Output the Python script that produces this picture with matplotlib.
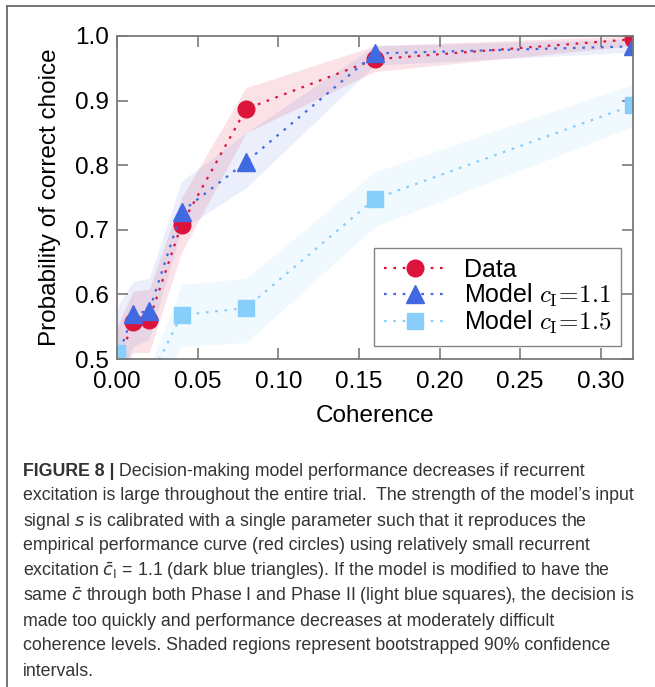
import matplotlib
matplotlib.use('Agg')
import matplotlib.pyplot as plt
from matplotlib.lines import Line2D
import numpy as np

plt.rcParams['font.family'] = ['Liberation Sans', 'DejaVu Sans']
plt.rcParams['mathtext.fontset'] = 'cm'

# coherence levels
coh = [0.0, 0.01, 0.02, 0.04, 0.08, 0.16, 0.32]

# data (red circles)
data_p = [0.49, 0.557, 0.561, 0.708, 0.887, 0.964, 0.995]
data_lo = [0.46, 0.51, 0.51, 0.665, 0.85, 0.945, 0.985]
data_hi = [0.55, 0.605, 0.608, 0.75, 0.92, 0.985, 1.0]

# model c_I = 1.1 (dark blue triangles)
m11_p = [0.50, 0.569, 0.575, 0.728, 0.805, 0.973, 0.984]
m11_lo = [0.46, 0.52, 0.53, 0.70, 0.765, 0.955, 0.975]
m11_hi = [0.58, 0.62, 0.625, 0.775, 0.85, 0.985, 0.995]

# model c_I = 1.5 (light blue squares)
m15_p = [0.51, 0.45, 0.468, 0.568, 0.579, 0.748, 0.893]
m15_lo = [0.47, 0.41, 0.43, 0.52, 0.525, 0.705, 0.86]
m15_hi = [0.55, 0.49, 0.485, 0.615, 0.625, 0.79, 0.925]

xticks = [0.00, 0.05, 0.10, 0.15, 0.20, 0.25, 0.30]
yticks = [0.5, 0.6, 0.7, 0.8, 0.9, 1.0]

caption = [
    "excitation is large throughout the entire trial.  The strength of the model\u2019s input",
    r"signal $s$ is calibrated with a single parameter such that it reproduces the",
    "empirical performance curve (red circles) using relatively small recurrent",
    r"excitation $\bar{c}_\mathrm{I}$ = 1.1 (dark blue triangles). If the model is modified to have the",
    r"same $\bar{c}$ through both Phase I and Phase II (light blue squares), the decision is",
    "made too quickly and performance decreases at moderately difficult",
    "coherence levels. Shaded regions represent bootstrapped 90% confidence",
    "intervals.",
]
caption_head = "FIGURE 8 |"
caption_first = " Decision-making model performance decreases if recurrent"

W, H = 655, 687
fig = plt.figure(figsize=(W / 100, H / 100), dpi=100)
ax = fig.add_axes([117 / W, 1 - 359 / H, (633 - 117) / W, (359 - 36) / H])

red = '#DC143C'
blue = '#4169E1'
lblue = '#87CEFA'
dot = (0, (1.2, 3))

ax.fill_between(coh, data_lo, data_hi, color=red, alpha=0.12, lw=0)
ax.fill_between(coh, m11_lo, m11_hi, color=blue, alpha=0.10, lw=0)
ax.fill_between(coh, m15_lo, m15_hi, color=lblue, alpha=0.12, lw=0)

ax.plot(coh, data_p, ls=dot, lw=1.6, color=red, marker='o', ms=12,
        mec=red, label='Data')
ax.plot(coh, m11_p, ls=dot, lw=1.6, color=blue, marker='^', ms=13,
        mec=blue, label=r'Model $c_\mathrm{I}\!=\!1.1$')
ax.plot(coh, m15_p, ls=dot, lw=1.6, color=lblue, marker='s', ms=11.5,
        mec=lblue, label=r'Model $c_\mathrm{I}\!=\!1.5$')

ax.set_xlim(0, 0.32)
ax.set_ylim(0.5, 1.0)
ax.set_xticks(xticks)
ax.set_xticklabels(['%.2f' % t for t in xticks])
ax.set_yticks(yticks)
ax.set_yticklabels(['%.1f' % t for t in yticks])

spine_c = '#7a7a7a'
for s in ax.spines.values():
    s.set_color(spine_c)
    s.set_linewidth(1.3)
ax.tick_params(direction='in', top=True, right=True, length=8, width=1.2,
               color=spine_c, labelsize=17.5, labelcolor='black')
ax.tick_params(axis='x', pad=9)
ax.tick_params(axis='y', pad=6)

ax.set_xlabel('Coherence', fontsize=17.5, labelpad=8)
ax.set_ylabel('Probability of correct choice', fontsize=17.5, labelpad=10)

leg = ax.legend(loc='lower right', fontsize=18, handlelength=2.5,
                frameon=True, fancybox=False, borderpad=0.4,
                labelspacing=0.0, handletextpad=0.7, borderaxespad=0,
                bbox_to_anchor=(0.977, 0.04))
leg.get_frame().set_edgecolor('#666666')
leg.get_frame().set_linewidth(1.0)

# outer frame of the figure panel
fig.add_artist(Line2D([7 / W, 7 / W], [0, 1 - 6 / H], transform=fig.transFigure,
                      color='#6a6a6a', lw=1.3))
fig.add_artist(Line2D([7 / W, 1], [1 - 6 / H, 1 - 6 / H], transform=fig.transFigure,
                      color='#6a6a6a', lw=1.3))

# caption
cap_kw = dict(fontsize=12.8, color='#333333', va='center', ha='left',
              math_fontfamily='dejavusans')
x0 = 23 / W
y0 = 471
head = fig.text(x0, 1 - y0 / H, caption_head, fontweight='bold', **cap_kw)
fig.canvas.draw()
bb = head.get_window_extent()
fig.text(bb.x1 / W, 1 - y0 / H, caption_first, **cap_kw)
for i, line in enumerate(caption):
    fig.text(x0, 1 - (y0 + 25 * (i + 1)) / H, line, **cap_kw)

fig.savefig('out.png', dpi=100)
